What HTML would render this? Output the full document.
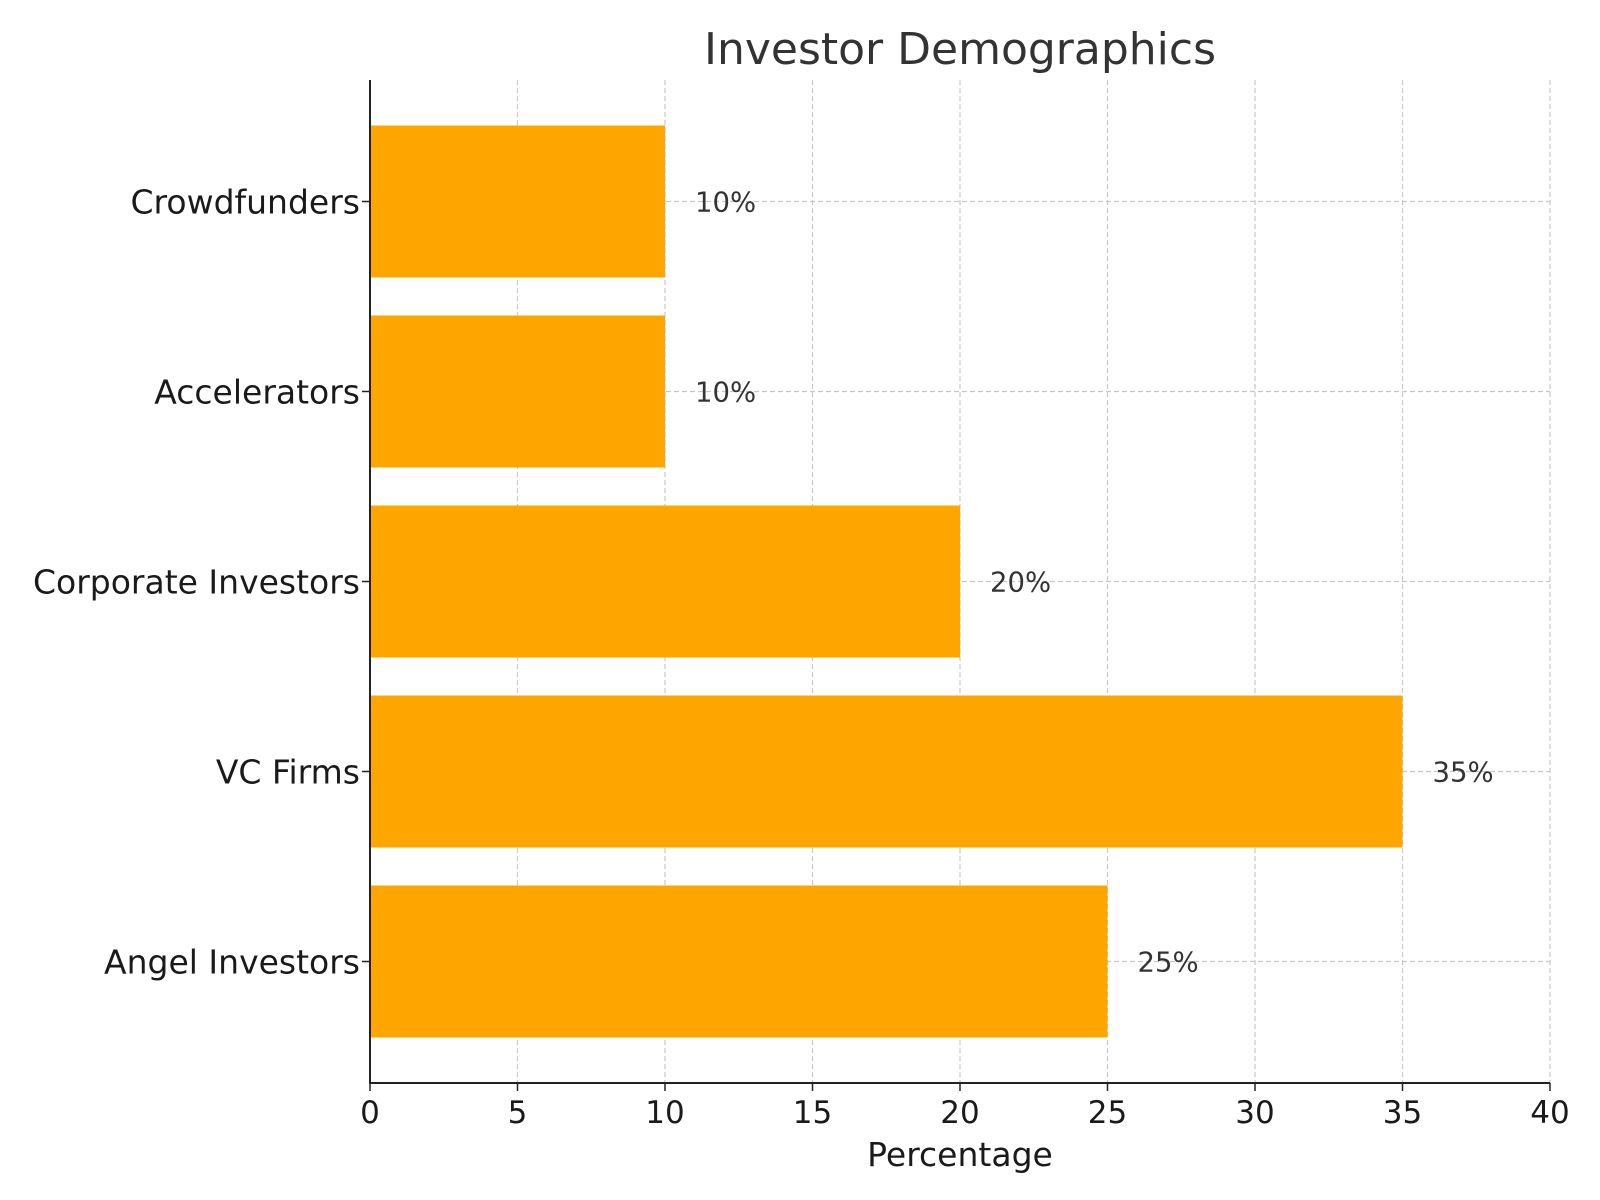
<!DOCTYPE html>
<html><head><meta charset="utf-8"><style>
body{margin:0;background:#fff;}
svg{display:block;font-family:"DejaVu Sans","Liberation Sans",sans-serif;}
</style></head><body>
<svg id="chart" width="1600" height="1200"></svg>
<script>
const categories=["Angel Investors","VC Firms","Corporate Investors","Accelerators","Crowdfunders"];
const values=[25,35,20,10,10];
const xTicks=[0,5,10,15,20,25,30,35,40];
const NS="http://www.w3.org/2000/svg";
const svg=document.getElementById('chart');
const L=370,R=1550,T=80,B=1083;
const xs=v=>L+(v-0)/(40-0)*(R-L);
const step=190, c0=961.5;
const ys=i=>c0-i*step;
const bh=152;
function mk(t,a,p){const e=document.createElementNS(NS,t);for(const k in a)e.setAttribute(k,a[k]);(p||svg).appendChild(e);return e;}
const grid=mk('g',{});


xTicks.forEach(v=>{mk('line',{x1:xs(v),x2:xs(v),y1:T,y2:B,stroke:'#c8c8c8','stroke-width':1.2,'stroke-dasharray':'5,3'},grid);});
categories.forEach((c,i)=>{mk('line',{x1:L,x2:R,y1:ys(i),y2:ys(i),stroke:'#c8c8c8','stroke-width':1.2,'stroke-dasharray':'5,3'},grid);});
categories.forEach((c,i)=>{
 const r=mk('rect',{x:L,y:ys(i)-bh/2,width:xs(values[i])-L,height:bh,fill:'#ffa500'});
 
 
 const t=mk('text',{x:xs(values[i])+30,y:ys(i)+10,'font-size':27.5,fill:'#333'});
 t.textContent=values[i]+'%';
 
 
 mk('line',{x1:L-8,x2:L,y1:ys(i),y2:ys(i),stroke:'#222','stroke-width':1.5});
 const l=mk('text',{x:L-10,y:ys(i)+12,'font-size':33,fill:'#1a1a1a','text-anchor':'end'});
 l.textContent=c;
 
 
});
xTicks.forEach(v=>{
 mk('line',{x1:xs(v),x2:xs(v),y1:B,y2:B+8,stroke:'#222','stroke-width':1.5});
 const t=mk('text',{x:xs(v),y:B+40,'font-size':31,fill:'#1a1a1a','text-anchor':'middle'});
 t.textContent=v;
 
 
});
mk('line',{x1:L,x2:L,y1:T,y2:B+0.75,stroke:'#222','stroke-width':2});
mk('line',{x1:L,x2:R,y1:B,y2:B,stroke:'#222','stroke-width':2});
const xt=mk('text',{x:(L+R)/2,y:B+83,'font-size':33,fill:'#1a1a1a','text-anchor':'middle'});
xt.textContent='Percentage';


const ti=mk('text',{x:(L+R)/2,y:64,'font-size':44,fill:'#333','text-anchor':'middle'});
ti.textContent='Investor Demographics';


</script>
</body></html>
